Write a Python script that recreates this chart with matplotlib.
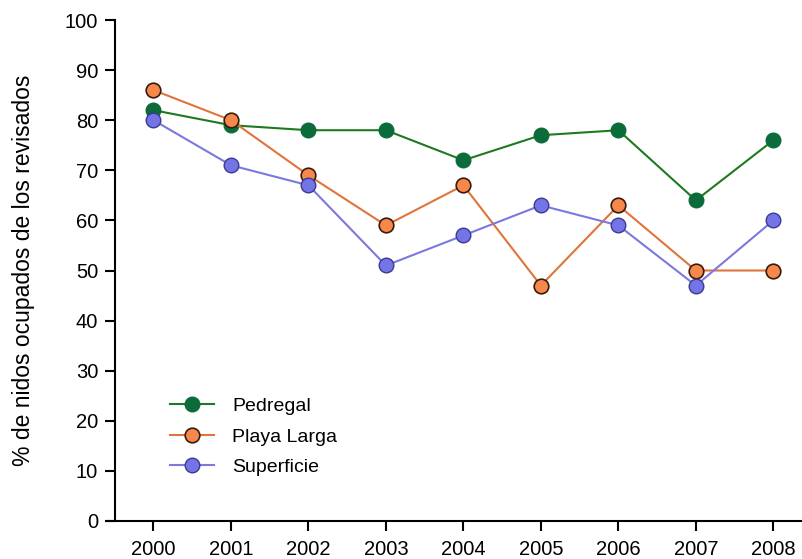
import matplotlib
matplotlib.use("Agg")
import matplotlib.pyplot as plt

years = [2000, 2001, 2002, 2003, 2004, 2005, 2006, 2007, 2008]
pedregal = [82, 79, 78, 78, 72, 77, 78, 64, 76]
playa_larga = [86, 80, 69, 59, 67, 47, 63, 50, 50]
superficie = [80, 71, 67, 51, 57, 63, 59, 47, 60]
y_ticks = [0, 10, 20, 30, 40, 50, 60, 70, 80, 90, 100]

plt.rcParams['font.family'] = ['Liberation Sans', 'DejaVu Sans']

fig = plt.figure(figsize=(8.02, 5.59), dpi=100)
ax = fig.add_axes([107 / 802, 1 - 521 / 559, 1 - 107 / 802, (521 - 20) / 559])

ax.plot(years, pedregal, '-o', color='#1f7a1f', lw=1.5, ms=10.5,
        mfc='#0b6b3a', mec='#0b6b3a', mew=1, label='Pedregal', zorder=3)
ax.plot(years, playa_larga, '-o', color='#e0743a', lw=1.5, ms=10.5,
        mfc='#f5884a', mec='#3a1a0a', mew=1.2, label='Playa Larga', zorder=4)
ax.plot(years, superficie, '-o', color='#7b78e0', lw=1.5, ms=10.5,
        mfc='#7474e8', mec='#3a3a90', mew=1, label='Superficie', zorder=5)

ax.set_xlim(1999.4, 2008.37)
ax.set_ylim(0, 100)
ax.set_xticks(years)
ax.set_yticks(y_ticks)

for s in ['top', 'right']:
    ax.spines[s].set_visible(False)
ax.spines['left'].set_position(('data', 1999.5))
ax.spines['left'].set_linewidth(1.5)
ax.spines['bottom'].set_linewidth(1.5)
ax.tick_params(axis='both', direction='out', length=7, width=1.5, labelsize=14.5, colors='black')
ax.tick_params(axis='x', pad=7)
ax.tick_params(axis='y', pad=5)

ax.set_ylabel('% de nidos ocupados de los revisados', fontsize=16.5)
ax.yaxis.set_label_coords(-0.104, 0.5)

leg = ax.legend(loc='lower left', bbox_to_anchor=(0.065, 0.055), frameon=False,
                fontsize=14, handlelength=2.3, labelspacing=0.66, handletextpad=0.9)

fig.savefig('out.png', dpi=100)
